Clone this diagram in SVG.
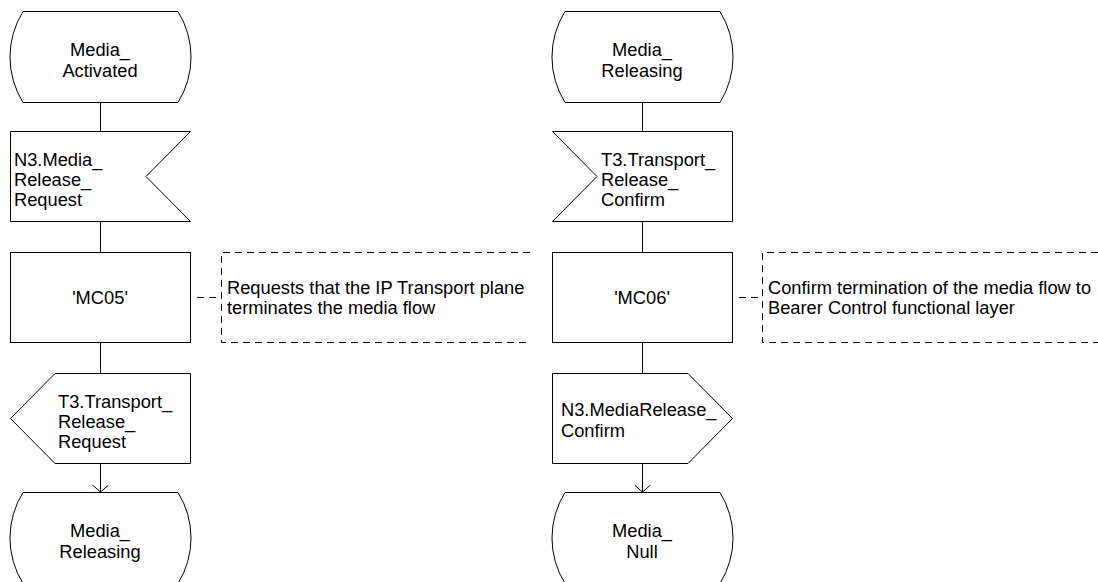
<svg xmlns="http://www.w3.org/2000/svg" width="1098" height="582" viewBox="0 0 1098 582">
<defs>
<style>
.s{fill:#fff;stroke:#000;stroke-width:1}
.l{fill:none;stroke:#000;stroke-width:1}
.d{fill:none;stroke:#000;stroke-width:1;stroke-dasharray:7 5}
text{font-family:"Liberation Sans",Arial,sans-serif;font-size:18.3px;fill:#000}
.c{text-anchor:middle}
</style>
<marker id="arr" viewBox="0 -9 8 18" refX="7" refY="0" markerWidth="8" markerHeight="18" markerUnits="userSpaceOnUse" orient="auto">
<path d="M0,-8 L7,0 L0,8" fill="none" stroke="#000" stroke-width="1"/>
</marker>
</defs>
<rect width="1098" height="582" fill="#fff"/>
<g id="connectors">
<path class="l" d="M100.5,102 V131"/>
<path class="l" d="M100.5,221 V252"/>
<path class="l" d="M100.5,342 V373"/>
<path class="l" d="M100.5,463 V492" marker-end="url(#arr)"/>
<path class="l" d="M642.5,102 V131"/>
<path class="l" d="M642.5,221 V252"/>
<path class="l" d="M642.5,342 V373"/>
<path class="l" d="M642.5,463 V492" marker-end="url(#arr)"/>
<path class="d" d="M197,297.5 H221"/>
<path class="d" d="M739,297.5 H762"/>
</g>
<g id="state_media_activated">
<path class="s" d="M23,11.5 H178 A86,86 0 0 1 178,102.5 H23 A86,86 0 0 1 23,11.5 Z"/>
<text class="c" x="100" y="56">Media_</text>
<text class="c" x="100" y="76.5">Activated</text>
</g>
<g id="input_n3_media_release_request">
<path class="s" d="M10.5,131.5 H190.5 L146,176.5 L190.5,221.5 H10.5 Z"/>
<text x="14" y="166">N3.Media_</text>
<text x="14" y="186">Release_</text>
<text x="14" y="206">Request</text>
</g>
<g id="task_mc05">
<rect class="s" x="10.5" y="252.5" width="180" height="90"/>
<text class="c" x="100" y="304">'MC05'</text>
</g>
<g id="comment_mc05">
<path class="d" d="M530,252.5 H221.5 V342.5 H530"/>
<text x="227" y="294">Requests that the IP Transport plane</text>
<text x="227" y="314">terminates the media flow</text>
</g>
<g id="output_t3_transport_release_request">
<path class="s" d="M55,373.5 H190.5 V463.5 H55 L10.5,418.5 Z"/>
<text x="58" y="408">T3.Transport_</text>
<text x="58" y="428">Release_</text>
<text x="58" y="448">Request</text>
</g>
<g id="state_media_releasing_left">
<path class="s" d="M23,492.5 H178 A86,86 0 0 1 178,583.5 H23 A86,86 0 0 1 23,492.5 Z"/>
<text class="c" x="100" y="537">Media_</text>
<text class="c" x="100" y="557.5">Releasing</text>
</g>
<g id="state_media_releasing_right">
<path class="s" d="M565,11.5 H720 A86,86 0 0 1 720,102.5 H565 A86,86 0 0 1 565,11.5 Z"/>
<text class="c" x="642" y="56">Media_</text>
<text class="c" x="642" y="76.5">Releasing</text>
</g>
<g id="input_t3_transport_release_confirm">
<path class="s" d="M552.5,131.5 H732.5 V221.5 H552.5 L597,176.5 Z"/>
<text x="601" y="166">T3.Transport_</text>
<text x="601" y="186">Release_</text>
<text x="601" y="206">Confirm</text>
</g>
<g id="task_mc06">
<rect class="s" x="552.5" y="252.5" width="180" height="90"/>
<text class="c" x="642" y="304">'MC06'</text>
</g>
<g id="comment_mc06">
<path class="d" d="M1098,252.5 H762.5 V342.5 H1098"/>
<text x="768" y="294">Confirm termination of the media flow to</text>
<text x="768" y="314">Bearer Control functional layer</text>
</g>
<g id="output_n3_mediarelease_confirm">
<path class="s" d="M552.5,373.5 H688 L732.5,418.5 L688,463.5 H552.5 Z"/>
<text x="561" y="416">N3.MediaRelease_</text>
<text x="561" y="437">Confirm</text>
</g>
<g id="state_media_null">
<path class="s" d="M565,492.5 H720 A86,86 0 0 1 720,583.5 H565 A86,86 0 0 1 565,492.5 Z"/>
<text class="c" x="642" y="537">Media_</text>
<text class="c" x="642" y="557.5">Null</text>
</g>
</svg>
